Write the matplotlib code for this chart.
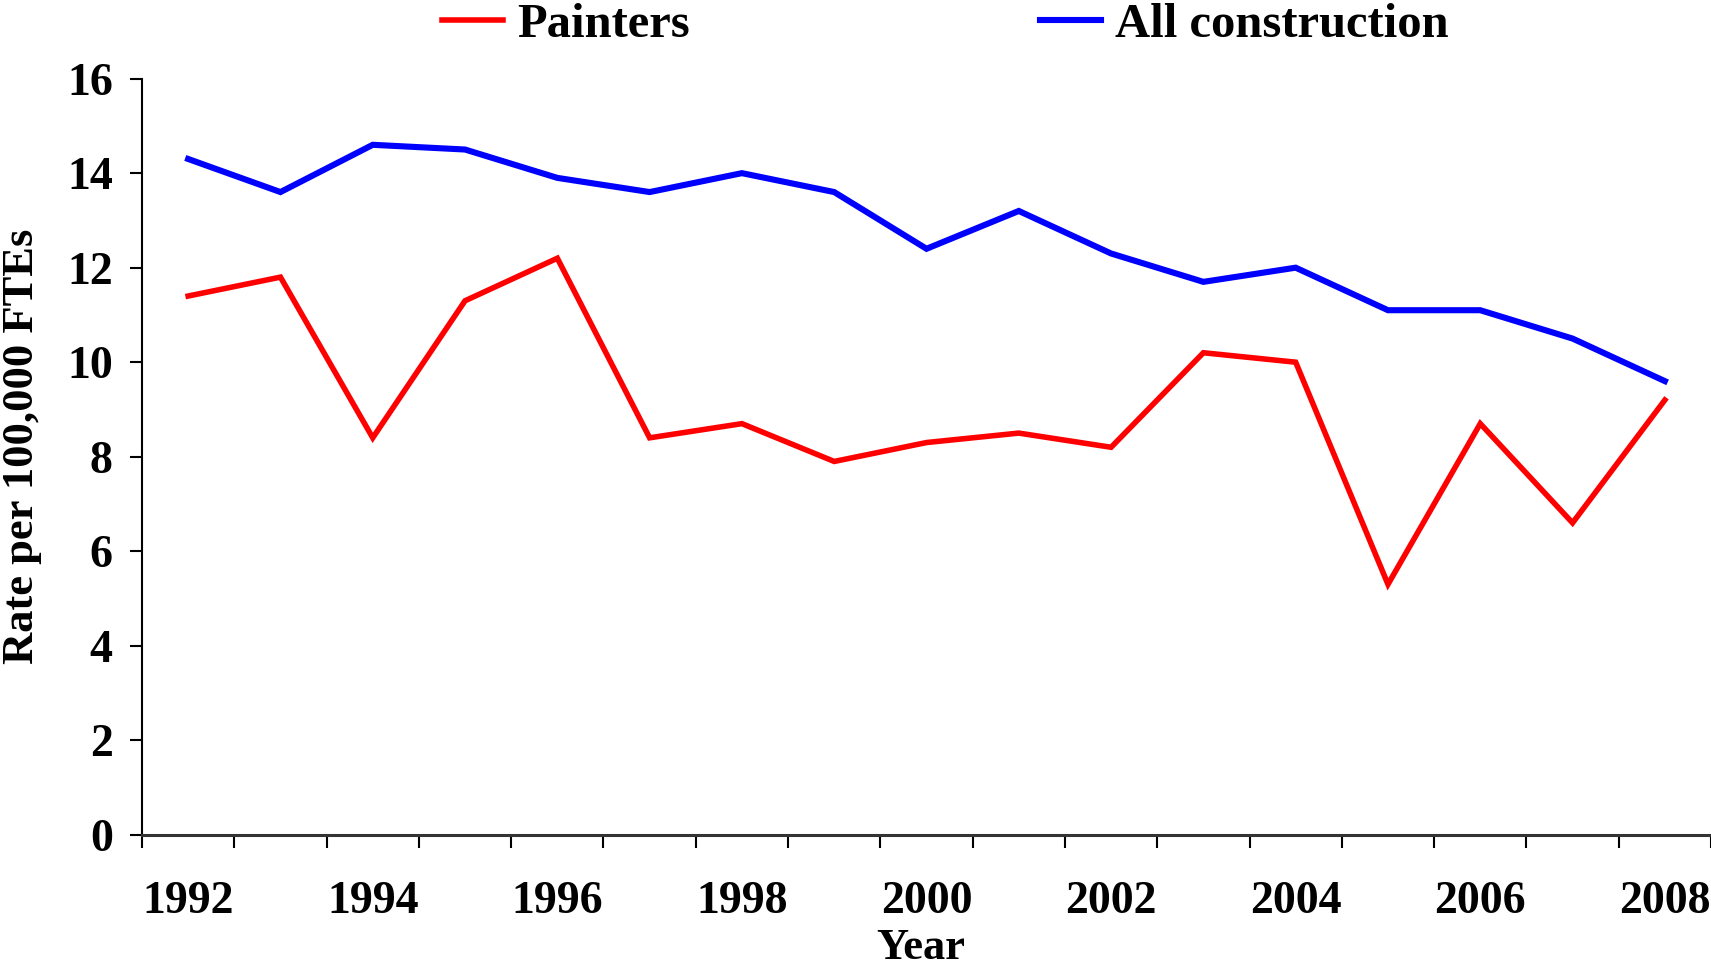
import numpy as np
import matplotlib
matplotlib.use("Agg")
import matplotlib.pyplot as plt
from matplotlib.ticker import FixedLocator, NullFormatter

plt.rcParams['font.family'] = ['Liberation Serif', 'DejaVu Serif']
plt.rcParams['font.weight'] = 'bold'

# fatality rates per 100,000 full-time equivalent workers
years = list(range(1992, 2009))
painters = [11.4, 11.8, 8.4, 11.3, 12.2, 8.4, 8.7, 7.9, 8.3, 8.5, 8.2, 10.2, 10.0, 5.3, 8.7, 6.6, 9.2]
all_construction = [14.3, 13.6, 14.6, 14.5, 13.9, 13.6, 14.0, 13.6, 12.4, 13.2, 12.3, 11.7, 12.0, 11.1, 11.1, 10.5, 9.6]
year_labels = [str(y) if y % 2 == 0 else '' for y in years]

fig = plt.figure(figsize=(17.11, 9.66), dpi=100)
ax = fig.add_axes([0.083, 0.1358, 0.917, 0.7828])

x = np.arange(len(years))
ax.plot(x, painters, color='#ff0000', lw=4.0, label='Painters', solid_joinstyle='miter')
ax.plot(x, all_construction, color='#0000ff', lw=4.4, label='All construction', solid_joinstyle='miter')

ax.set_xlim(-0.5, len(years) - 0.5)
ax.set_ylim(0, 16)
ax.set_yticks(np.arange(0, 17, 2))

# category axis: tick marks between years, labels under the years
ax.xaxis.set_major_locator(FixedLocator(np.arange(-0.5, len(years), 1.0)))
ax.xaxis.set_major_formatter(NullFormatter())
ax.xaxis.set_minor_locator(FixedLocator(x))
ax.set_xticklabels(year_labels, minor=True)
ax.tick_params(axis='x', which='major', direction='out', length=9, width=1.5)
ax.tick_params(axis='x', which='minor', length=0, pad=33, labelsize=33)
ax.tick_params(axis='y', direction='out', length=9, width=1.5, pad=12, labelsize=33)

for s in ['top', 'right']:
    ax.spines[s].set_visible(False)
ax.spines['left'].set_linewidth(1.5)
ax.spines['bottom'].set_linewidth(2.2)
ax.spines['bottom'].set_color('#333333')

ax.set_ylabel('Rate per 100,000 FTEs', fontsize=32, fontweight='bold', va='center')
ax.yaxis.set_label_coords(-0.0765, 0.514)
ax.set_xlabel('Year', fontsize=32, fontweight='bold', va='center')
ax.xaxis.set_label_coords(0.4965, -0.150)

fig.legend(loc='upper left', bbox_to_anchor=(442 / 1711, 0.997), ncol=2, frameon=False,
           fontsize=35, handlelength=1.25, handletextpad=0.3, columnspacing=7.2,
           borderpad=0.0, borderaxespad=0.0)

fig.savefig('out.png', dpi=100)
